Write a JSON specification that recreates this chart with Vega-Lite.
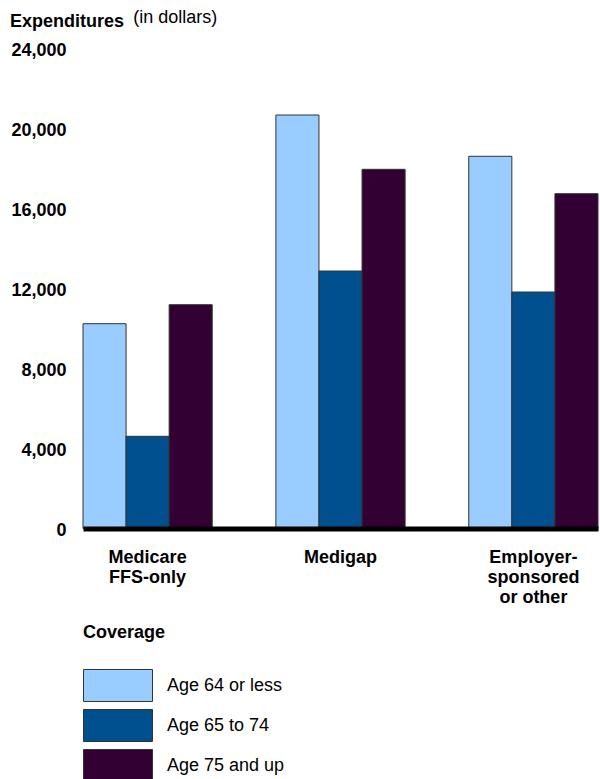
{
  "$schema": "https://vega.github.io/schema/vega-lite/v6.json",
  "autosize": {"type": "none"},
  "padding": {"left": 83, "top": 48.5, "right": 2, "bottom": 250.5},
  "width": 515,
  "height": 480,
  "title": {
    "text": "Expenditures",
    "anchor": "start",
    "frame": "group",
    "orient": "top",
    "font": "Liberation Sans",
    "fontSize": 18,
    "fontWeight": "bold",
    "color": "#000000",
    "baseline": "alphabetic",
    "offset": 0,
    "dx": -73,
    "dy": 36
  },
  "data": {
    "values": [
      {"coverage": "Medicare FFS-only", "age": "Age 64 or less", "expenditure": 10240},
      {"coverage": "Medicare FFS-only", "age": "Age 65 to 74", "expenditure": 4610},
      {"coverage": "Medicare FFS-only", "age": "Age 75 and up", "expenditure": 11190},
      {"coverage": "Medigap", "age": "Age 64 or less", "expenditure": 20675},
      {"coverage": "Medigap", "age": "Age 65 to 74", "expenditure": 12875},
      {"coverage": "Medigap", "age": "Age 75 and up", "expenditure": 17960},
      {"coverage": "Employer-sponsored or other", "age": "Age 64 or less", "expenditure": 18610},
      {"coverage": "Employer-sponsored or other", "age": "Age 65 to 74", "expenditure": 11825},
      {"coverage": "Employer-sponsored or other", "age": "Age 75 and up", "expenditure": 16740}
    ]
  },
  "mark": {"type": "bar", "stroke": "#333333", "strokeWidth": 1},
  "encoding": {
    "x": {
      "field": "coverage",
      "type": "nominal",
      "sort": ["Medicare FFS-only", "Medigap", "Employer-sponsored or other"],
      "scale": {"paddingInner": 0.33, "paddingOuter": 0},
      "axis": {
        "title": null,
        "labelAngle": 0,
        "ticks": false,
        "domain": true,
        "domainColor": "#000000",
        "domainWidth": 5,
        "labelPadding": 20,
        "labelBaseline": "top",
        "labelLineHeight": 20,
        "labelFont": "Liberation Sans",
        "labelFontSize": 18,
        "labelFontWeight": "bold",
        "labelColor": "#000000",
        "labelExpr": "datum.value == 'Medicare FFS-only' ? ['Medicare', 'FFS-only'] : datum.value == 'Employer-sponsored or other' ? ['Employer-', 'sponsored', 'or other'] : datum.value",
        "zindex": 1
      }
    },
    "xOffset": {
      "field": "age",
      "type": "nominal",
      "sort": ["Age 64 or less", "Age 65 to 74", "Age 75 and up"],
      "scale": {"paddingInner": 0, "paddingOuter": 0}
    },
    "y": {
      "field": "expenditure",
      "type": "quantitative",
      "scale": {"domain": [0, 24000], "nice": false},
      "axis": {
        "values": [0, 4000, 8000, 12000, 16000, 20000, 24000],
        "format": ",d",
        "grid": false,
        "ticks": false,
        "domain": false,
        "labelFlush": false,
        "labelPadding": 17,
        "labelOffset": 2,
        "labelFont": "Liberation Sans",
        "labelFontSize": 18,
        "labelFontWeight": "bold",
        "labelColor": "#000000",
        "title": "(in dollars)",
        "titleAngle": 0,
        "titleX": 49.7,
        "titleY": -25.8,
        "titleAlign": "left",
        "titleBaseline": "alphabetic",
        "titleFont": "Liberation Sans",
        "titleFontSize": 18,
        "titleFontWeight": "normal",
        "titleColor": "#000000"
      }
    },
    "color": {
      "field": "age",
      "type": "nominal",
      "sort": ["Age 64 or less", "Age 65 to 74", "Age 75 and up"],
      "scale": {
        "domain": ["Age 64 or less", "Age 65 to 74", "Age 75 and up"],
        "range": ["#99CCFF", "#00508F", "#330033"]
      },
      "legend": {
        "title": "Coverage",
        "orient": "none",
        "legendX": 0,
        "legendY": 575,
        "direction": "vertical",
        "titleFont": "Liberation Sans",
        "titleFontSize": 18,
        "titleFontWeight": "bold",
        "titleColor": "#000000",
        "titlePadding": 27,
        "symbolType": "M-1,-0.464H1V0.464H-1Z",
        "symbolSize": 4761,
        "symbolStrokeColor": "#333333",
        "symbolStrokeWidth": 1,
        "symbolOpacity": 1,
        "clipHeight": 34,
        "rowPadding": 6,
        "labelOffset": 14,
        "labelFont": "Liberation Sans",
        "labelFontSize": 18,
        "labelColor": "#000000"
      }
    }
  },
  "config": {
    "view": {"stroke": null}
  }
}
